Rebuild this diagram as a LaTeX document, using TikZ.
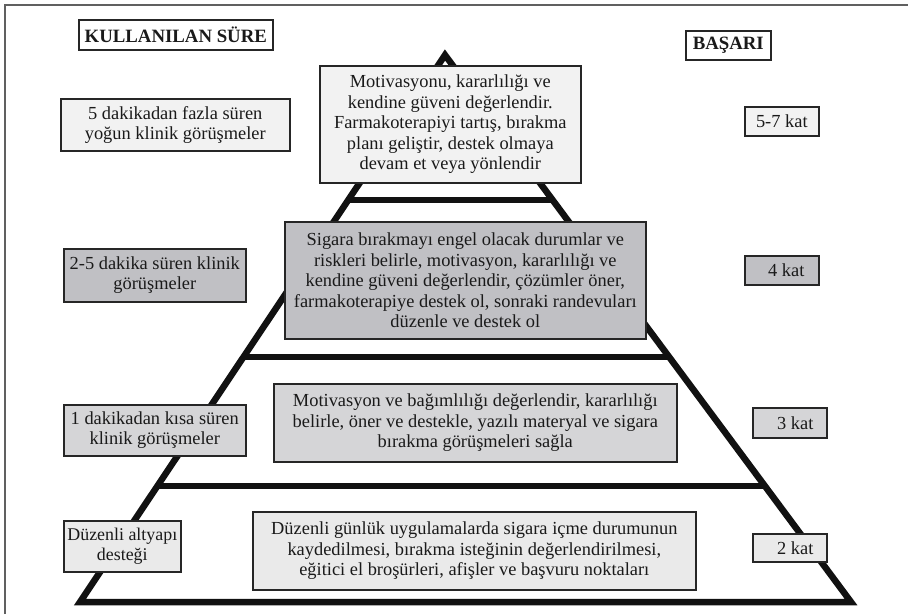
\documentclass[tikz,border=0pt]{standalone}
\usepackage{fontspec}
\setmainfont{Liberation Serif}
\usetikzlibrary{calc}
\newcommand\pyrtext{\fontsize{18.4}{20.4}\selectfont}
\newcommand\pyrsmall{\fontsize{17.9}{20.4}\selectfont}
\newcommand\pyrhead{\fontsize{18.8}{20}\selectfont\bfseries}
\definecolor{boxline}{HTML}{262626}
\definecolor{fillA}{HTML}{F2F2F2}
\definecolor{fillB}{HTML}{C0C0C4}
\definecolor{fillC}{HTML}{D5D5D7}
\definecolor{fillD}{HTML}{EAEAEA}
\definecolor{framegray}{HTML}{606060}
\definecolor{pyrline}{HTML}{111111}
\definecolor{ink}{HTML}{1A1A1A}
\begin{document}
\begin{tikzpicture}[x=1pt,y=-1pt,
  box/.style={draw=boxline, line width=1.6pt, rectangle, inner sep=0pt,
              anchor=north west, align=center, font=\pyrtext, text=ink},
  headbox/.style={box, fill=white, font=\pyrhead},
  katbox/.style={box},
  side/.style={draw=pyrline, line width=6.5pt, line join=miter},
  level/.style={draw=pyrline, line width=5.4pt}]
\useasboundingbox (0,0) rectangle (908,614);

% page frame (top and left edges)
\draw[framegray, line width=1.2pt] (5,614) -- (5,5) -- (908,5);

% pyramid outline
\coordinate (A) at (445,55);
\coordinate (BL) at (80,602);
\coordinate (BR) at (851,602);
\draw[side] (A) -- (BL) -- (BR) -- cycle;

% level dividers
\coordinate (L1) at ($(A)!0.265!(BL)$);
\coordinate (R1) at ($(A)!0.265!(BR)$);
\coordinate (L2) at ($(A)!0.552!(BL)$);
\coordinate (R2) at ($(A)!0.552!(BR)$);
\coordinate (L3) at ($(A)!0.788!(BL)$);
\coordinate (R3) at ($(A)!0.788!(BR)$);
\draw[level] (L1) -- (R1);
\draw[level] (L2) -- (R2);
\draw[level] (L3) -- (R3);

% column headings
\node[headbox, minimum width=194pt, minimum height=30pt] (hsure) at (78,19) {KULLANILAN SÜRE};
\node[headbox, minimum width=85pt, minimum height=29pt] (hbasari) at (685,30) {BAŞARI};

% time spent
\node[box, fill=fillA, minimum width=229pt, minimum height=52pt] (t5) at (60,98)
  {5 dakikadan fazla süren\\yoğun klinik görüşmeler};
\node[box, fill=fillB, minimum width=182pt, minimum height=53pt] (t25) at (63,248)
  {2-5 dakika süren klinik\\görüşmeler};
\node[box, fill=fillC, minimum width=182pt, minimum height=51pt] (t1) at (63,404)
  {1 dakikadan kısa süren\\klinik görüşmeler};
\node[box, fill=fillD, minimum width=117pt, minimum height=51pt, font=\pyrsmall] (t0) at (63,520)
  {Düzenli altyapı\\desteği};

% interventions inside the pyramid
\node[box, fill=fillA, minimum width=261pt, minimum height=117pt] (p4) at (319,65)
  {Motivasyonu, kararlılığı ve\\kendine güveni değerlendir.\\Farmakoterapiyi tartış, bırakma\\planı geliştir, destek olmaya\\devam et veya yönlendir};
\node[box, fill=fillB, minimum width=361pt, minimum height=117pt] (p3) at (284,221)
  {Sigara bırakmayı engel olacak durumlar ve\\riskleri belirle, motivasyon, kararlılığı ve\\kendine güveni değerlendir, çözümler öner,\\farmakoterapiye destek ol, sonraki randevuları\\düzenle ve destek ol};
\node[box, fill=fillC, minimum width=403pt, minimum height=78pt] (p2) at (273,383)
  {Motivasyon ve bağımlılığı değerlendir, kararlılığı\\belirle, öner ve destekle, yazılı materyal ve sigara\\bırakma görüşmeleri sağla};
\node[box, fill=fillD, minimum width=443pt, minimum height=78pt] (p1) at (252,511)
  {Düzenli günlük uygulamalarda sigara içme durumunun\\kaydedilmesi, bırakma isteğinin değerlendirilmesi,\\eğitici el broşürleri, afişler ve başvuru noktaları};

% success rates
\node[katbox, fill=fillA, minimum width=74pt, minimum height=29pt] (k4) at (744,106) {5-7 kat};
\node[katbox, fill=fillB, minimum width=74pt, minimum height=29pt] (k3) at (744,255) {\hspace{9pt}4 kat};
\node[katbox, fill=fillC, minimum width=74pt, minimum height=30pt] (k2) at (752,407) {\hspace{11pt}3 kat};
\node[katbox, fill=fillD, minimum width=74pt, minimum height=28pt] (k1) at (752,533) {\hspace{11pt}2 kat};
\end{tikzpicture}
\end{document}
